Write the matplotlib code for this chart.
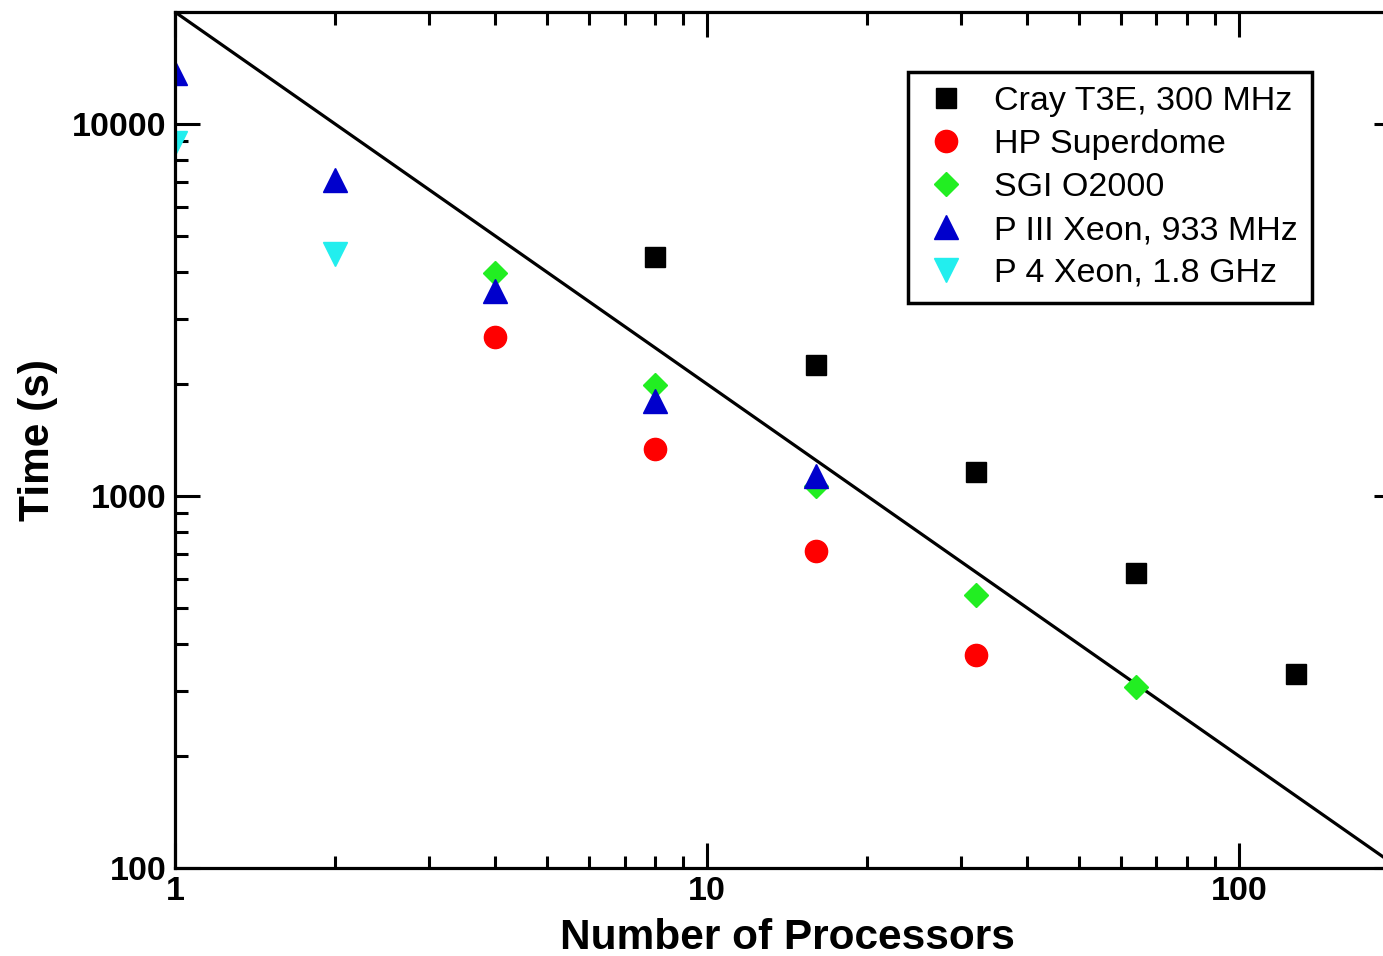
import numpy as np
from matplotlib import pyplot as plt

# processors and wall-clock times
cray_p = [8, 16, 32, 64, 128]
cray_t = [4390, 2250, 1160, 621, 332]

hp_p = [4, 8, 16, 32]
hp_t = [2675, 1337, 711, 374]

sgi_p = [4, 8, 16, 32, 64]
sgi_t = [3977, 1988, 1064, 542, 307]

p3_p = [1, 2, 4, 8, 16]
p3_t = [13700, 7050, 3550, 1800, 1130]

p4_p = [1, 2]
p4_t = [8900, 4480]

ideal_p = [1, 200]
ideal_t = [20000, 100]

plt.rcParams['font.family'] = ['Liberation Sans', 'DejaVu Sans']

W, H = 1383, 956
fig = plt.figure(figsize=(W / 100, H / 100), dpi=100)
ax = fig.add_axes([175 / W, 88 / H, (1399 - 175) / W, (868 - 12) / H])

ax.plot(ideal_p, ideal_t, color='k', lw=2.3, zorder=1)

ax.plot(cray_p, cray_t, 's', color='k', ms=15, label='Cray T3E, 300 MHz')
ax.plot(hp_p, hp_t, 'o', color='#ff0000', ms=16, label='HP Superdome')
ax.plot(sgi_p, sgi_t, 'D', color='#22ee22', ms=12, label='SGI O2000')
ax.plot(p3_p, p3_t, '^', color='#0000cc', ms=17, label='P III Xeon, 933 MHz')
ax.plot(p4_p, p4_t, 'v', color='#22eeee', ms=17, label='P 4 Xeon, 1.8 GHz')

ax.set_xscale('log')
ax.set_yscale('log')
ax.set_xlim(1, 200)
ax.set_ylim(100, 20000)

for s in ax.spines.values():
    s.set_linewidth(2.3)

ax.tick_params(which='both', direction='in', top=True, right=True, width=2.2)
ax.tick_params(which='major', length=18, labelsize=24.5, pad=6)
ax.tick_params(which='minor', length=9)
ax.set_xticks([1, 10, 100])
ax.set_xticklabels(['1', '10', '100'], fontweight='bold')
ax.set_yticks([100, 1000, 10000])
ax.set_yticklabels(['100', '1000', '10000'], fontweight='bold')

ax.set_xlabel('Number of Processors', fontsize=30.5, fontweight='bold', labelpad=8)
ax.set_ylabel('Time (s)', fontsize=30.5, fontweight='bold', labelpad=10)

leg = ax.legend(loc='upper left', bbox_to_anchor=((908 - 175) / 1224, 1 - (72 - 12) / 856),
                fontsize=24.5, frameon=True, fancybox=False, framealpha=1, numpoints=1,
                handletextpad=0.7, labelspacing=0.35, borderpad=0.42, handlelength=1.4,
                borderaxespad=0)
leg.get_frame().set_edgecolor('k')
leg.get_frame().set_linewidth(2.5)

fig.savefig('out.png', dpi=100)
